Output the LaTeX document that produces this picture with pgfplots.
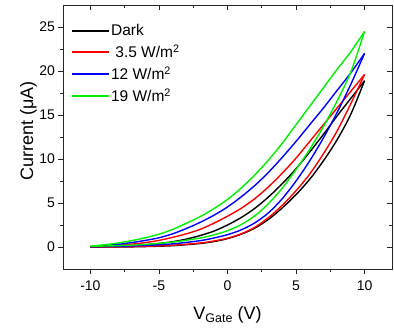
\documentclass[border=0pt]{standalone}
\usepackage{fontspec}
\setmainfont{Liberation Sans}
\usepackage{pgfplots}
\pgfplotsset{compat=1.18}
\definecolor{ogreen}{RGB}{0,240,0}
\definecolor{ored}{RGB}{255,0,0}
\definecolor{oblue}{RGB}{0,0,255}
\begin{document}
\begin{tikzpicture}
\pgfplotsset{
 common/.style={
  scale only axis, width=329pt, height=264pt,
  xmin=-12, xmax=12, ymin=-2.5, ymax=27.5,
  xtick={-10,-5,0,5,10}, ytick={0,5,10,15,20,25},
  minor x tick num=1, minor y tick num=1,
  major tick length=4.5pt, minor tick length=2.5pt,
  axis line style={line width=0.9pt, black!85},
  every tick/.style={line width=0.9pt, black!85},
  /pgf/number format/assume math mode=true,
  at={(0,0)}, anchor=south west,
 }
}
\path[use as bounding box] (-63pt,-64pt) rectangle (331pt,269pt);
\begin{axis}[common,
  xtick pos=left, ytick pos=left, tick align=outside,
  ticklabel style={font=\fontsize{14}{16}\selectfont},
  xticklabel style={yshift=-3.5pt},
  xlabel={V{\fontsize{12.5}{14}\selectfont\raisebox{-0.45ex}{Gate}} (V)},
  ylabel={Current (μA)},
  label style={font=\fontsize{18}{21}\selectfont},
  xlabel style={at={(axis description cs:0.5,-0.193)}, anchor=base},
  ylabel style={at={(axis description cs:-0.105,0.522)}, anchor=center},
  legend style={at={(axis description cs:0.027,0.935)}, anchor=north west, draw=none, fill=none,
     font=\fontsize{15.5}{18}\selectfont, row sep=3.6pt, inner sep=0pt},
  legend cell align=left,
  legend image code/.code={\fill[#1, draw=none] (0pt,-1pt) rectangle (37pt,1pt);},
  every axis plot/.append style={line width=1.4pt},
]
\addlegendimage{black}
\addlegendentry{Dark}
\addlegendimage{ored}
\addlegendentry{\ 3.5 W/m\textsuperscript{2}}
\addlegendimage{oblue}
\addlegendentry{12 W/m\textsuperscript{2}}
\addlegendimage{ogreen}
\addlegendentry{19 W/m\textsuperscript{2}}
% Dark
\addplot[black, smooth, forget plot] coordinates {(-10,0.0) (-8,0.0) (-6,0.05) (-4,0.15) (-2,0.4) (-1,0.62) (0,0.95) (1,1.45) (2,2.15) (3,3.15) (4,4.45) (5,5.95) (6,7.7) (7,9.8) (8,12.2) (9,15.1) (10,18.9)};
\addplot[black, smooth, forget plot] coordinates {(10,18.9) (9,16.9) (8,14.9) (7,12.8) (6,10.8) (5,8.9) (4,7.2) (3,5.7) (2,4.4) (1,3.35) (0,2.5) (-1,1.8) (-2,1.3) (-3,0.9) (-4,0.6) (-5,0.4) (-6,0.25) (-8,0.08) (-10,0.0)};
% 3.5
\addplot[ored, smooth, forget plot] coordinates {(-10,0.0) (-8,0.02) (-6,0.08) (-4,0.2) (-2,0.45) (-1,0.68) (0,1.0) (1,1.5) (2,2.25) (3,3.35) (4,4.75) (5,6.4) (6,8.3) (7,10.6) (8,13.2) (9,16.3) (10,19.6)};
\addplot[ored, smooth, forget plot] coordinates {(10,19.6) (9,17.7) (8,15.8) (7,13.9) (6,12.0) (5,10.1) (4,8.4) (3,6.85) (2,5.5) (1,4.4) (0,3.5) (-1,2.7) (-2,2.0) (-3,1.5) (-4,1.1) (-5,0.75) (-6,0.5) (-7,0.32) (-8,0.18) (-9,0.08) (-10,0.02)};
% 12
\addplot[oblue, smooth, forget plot] coordinates {(-10,0.03) (-8,0.08) (-6,0.18) (-4,0.36) (-2,0.72) (-1,1.02) (0,1.4) (1,1.95) (2,2.75) (3,3.9) (4,5.5) (5,7.5) (6,9.8) (7,12.4) (8,15.3) (9,18.5) (10,22.0)};
\addplot[oblue, smooth, forget plot] coordinates {(10,22.0) (9,19.8) (8,17.8) (7,15.8) (6,13.9) (5,12.0) (4,10.2) (3,8.5) (2,7.0) (1,5.7) (0,4.55) (-1,3.6) (-2,2.8) (-3,2.1) (-4,1.5) (-5,1.05) (-6,0.75) (-7,0.5) (-8,0.3) (-9,0.15) (-10,0.05)};
% 19
\addplot[ogreen, smooth, forget plot] coordinates {(-10,0.08) (-8,0.15) (-6,0.3) (-4,0.56) (-2,1.02) (-1,1.38) (0,1.85) (1,2.55) (2,3.55) (3,4.95) (4,6.7) (5,8.8) (6,11.1) (7,13.7) (8,16.6) (9,19.9) (10,24.5)};
\addplot[ogreen, smooth, forget plot] coordinates {(10,24.5) (9,22.2) (8,20.2) (7,18.1) (6,16.0) (5,13.9) (4,11.8) (3,9.9) (2,8.2) (1,6.7) (0,5.4) (-1,4.35) (-2,3.45) (-3,2.7) (-4,2.0) (-5,1.45) (-6,1.05) (-7,0.72) (-8,0.45) (-9,0.25) (-10,0.1)};
\end{axis}
\begin{axis}[common,
  xtick pos=right, ytick pos=right, tick align=inside,
  xticklabels={}, yticklabels={},
]
\end{axis}
\end{tikzpicture}
\end{document}
